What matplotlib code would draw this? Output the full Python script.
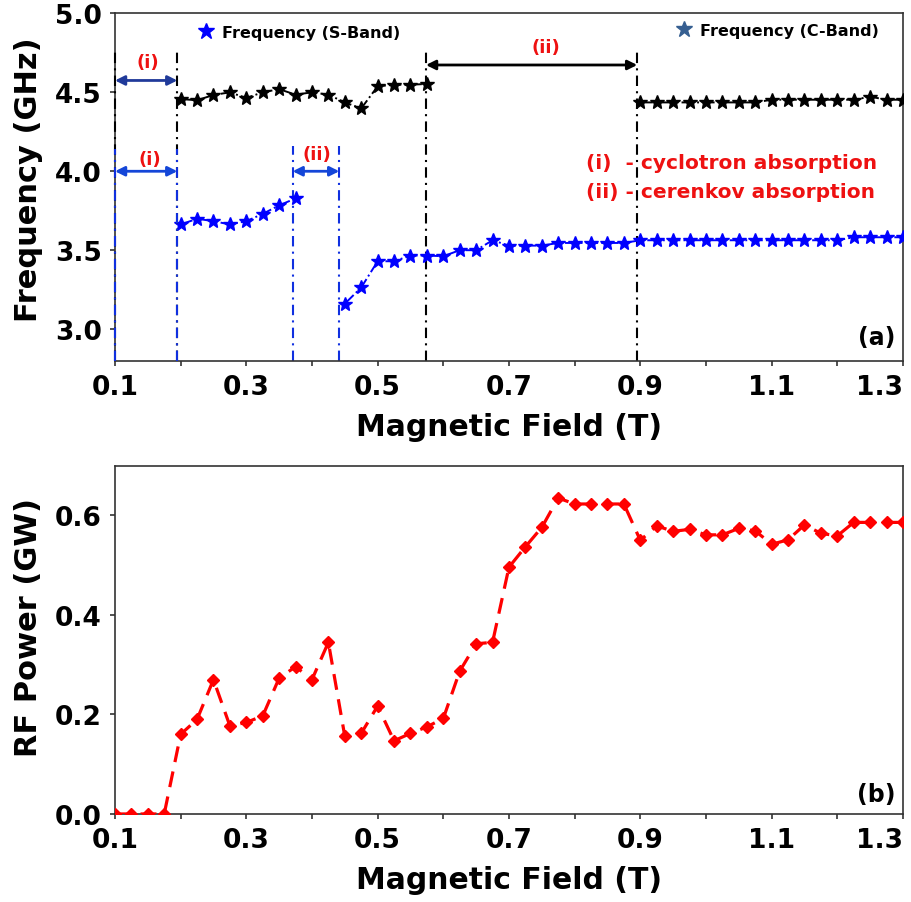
import numpy as np
import matplotlib
matplotlib.use('Agg')
import matplotlib.pyplot as plt
from matplotlib.lines import Line2D

plt.rcParams['font.family'] = 'DejaVu Sans'
plt.rcParams['font.weight'] = 'bold'

nan = np.nan

# magnetic field grid (T), 0.025 T steps
field = np.round(np.arange(0.1, 1.3001, 0.025), 3)
field_f = field[4:]  # frequency data starts at 0.2 T

# S-band frequency (GHz), gap where cerenkov absorption occurs
freq_s = [3.663, 3.699, 3.684, 3.663, 3.684, 3.73, 3.784, 3.828,
          nan, nan,
          3.161, 3.264, 3.43, 3.43, 3.466, 3.466, 3.462, 3.5, 3.5, 3.563,
          3.529, 3.529, 3.529, 3.546, 3.546, 3.546, 3.546, 3.546,
          3.563, 3.563, 3.563, 3.563, 3.563, 3.563, 3.563, 3.563, 3.563,
          3.563, 3.563, 3.563, 3.563,
          3.582, 3.582, 3.582, 3.582]

# C-band frequency (GHz)
freq_c = [4.457, 4.45, 4.483, 4.5, 4.464, 4.5, 4.52, 4.485, 4.5, 4.485,
          4.436, 4.398, 4.538, 4.548, 4.548, 4.553,
          nan, nan, nan, nan, nan, nan, nan, nan, nan, nan, nan, nan,
          4.436, 4.436, 4.436, 4.436, 4.436, 4.436, 4.436, 4.436,
          4.453, 4.453, 4.453, 4.453, 4.453, 4.453,
          4.472, 4.453, 4.453]

# RF power (GW)
power = [0, 0, 0, 0,
         0.16, 0.19, 0.27, 0.177, 0.184, 0.197, 0.273, 0.296, 0.27, 0.345,
         0.156, 0.162, 0.217, 0.147, 0.162, 0.175, 0.192, 0.287, 0.342, 0.345,
         0.496, 0.537, 0.576, 0.635, 0.623, 0.623, 0.623, 0.623,
         0.55, 0.579, 0.568, 0.572, 0.561, 0.561, 0.574, 0.569, 0.542, 0.551,
         0.581, 0.564, 0.559, 0.586, 0.586, 0.586, 0.586]

# absorption region boundaries (T)
black_bounds = [0.1, 0.195, 0.5736, 0.8953]
blue_bounds = [0.1, 0.195, 0.3705, 0.4416]

fig = plt.figure(figsize=(9.11, 9.03), dpi=100)
ax1 = fig.add_axes([0.1262, 0.5994, 0.865, 0.3847])
ax2 = fig.add_axes([0.1262, 0.0975, 0.865, 0.3857])

dashdot = (0, (5, 2.5, 1, 2.5))

# ---- (a) frequency ----
ax1.plot(field_f, freq_c, color='black', ls='-.', lw=1.4, marker='*', ms=10, zorder=3)
ax1.plot(field_f, freq_s, color='#0000ff', ls='-.', lw=1.4, marker='*', ms=10, zorder=3)

for x in black_bounds[:2]:
    ax1.plot([x, x], [2.8, 4.775], color='black', ls=dashdot, lw=1.5,
             clip_on=False, zorder=3)
for x in black_bounds[2:]:
    ax1.plot([x, x], [2.8, 4.78], color='black', ls=dashdot, lw=1.5, clip_on=False)
for x in blue_bounds[:2]:
    ax1.plot([x, x], [2.8, 4.14], color='#1030e0', ls=dashdot, lw=1.5,
             clip_on=False, zorder=3)
for x in blue_bounds[2:]:
    ax1.plot([x, x], [2.8, 4.16], color='#1030e0', ls=dashdot, lw=1.5, clip_on=False)

def span(ax, x0, x1, y, color):
    ax.annotate('', xy=(x0, y), xytext=(x1, y),
                arrowprops=dict(arrowstyle='<|-|>', color=color, lw=2,
                                mutation_scale=14, shrinkA=0, shrinkB=0))

span(ax1, 0.1, 0.195, 4.575, '#203a9a')
span(ax1, 0.1, 0.195, 4.0, '#1446d8')
span(ax1, 0.3705, 0.4416, 4.0, '#1446d8')
span(ax1, 0.5736, 0.8953, 4.673, 'black')

lab = dict(color='#ee1111', fontsize=13, fontweight='bold', ha='center', va='center')
ax1.text(0.150, 4.69, '(i)', **lab)
ax1.text(0.153, 4.08, '(i)', **lab)
ax1.text(0.407, 4.108, '(ii)', **lab)
ax1.text(0.756, 4.786, '(ii)', **lab)

ax1.text(0.818, 4.055, '(i)  - cyclotron absorption', color='#ee1111',
         fontsize=14.5, fontweight='bold', ha='left', va='center')
ax1.text(0.818, 3.87, '(ii) - cerenkov absorption', color='#ee1111',
         fontsize=14.5, fontweight='bold', ha='left', va='center')

ax1.text(0.99, 0.068, '(a)', transform=ax1.transAxes, fontsize=17,
         fontweight='bold', ha='right', va='center')

h_s = Line2D([], [], color='#0000ff', marker='*', ls='none', ms=12)
h_c = Line2D([], [], color='#365f91', marker='*', ls='none', ms=12)
leg1 = ax1.legend([h_s], ['Frequency (S-Band)'], loc='center left',
                  bbox_to_anchor=(0.105, 0.946), frameon=False, fontsize=11.5,
                  handlelength=1, handletextpad=0.5, borderpad=0, borderaxespad=0)
ax1.add_artist(leg1)
ax1.legend([h_c], ['Frequency (C-Band)'], loc='center left',
           bbox_to_anchor=(0.712, 0.952), frameon=False, fontsize=11.5,
           handlelength=1, handletextpad=0.5, borderpad=0, borderaxespad=0)

ax1.set_xlim(0.1, 1.3)
ax1.set_ylim(2.8, 5.0)
ax1.set_yticks([3.0, 3.5, 4.0, 4.5, 5.0])
ax1.set_ylabel('Frequency (GHz)', fontsize=22, fontweight='bold')
ax1.yaxis.set_label_coords(-0.0914, 0.523)

# ---- (b) RF power ----
ax2.plot(field, power, color='#ff0000', ls=(0, (5, 3)), lw=2.3,
         marker='D', ms=6.5, zorder=3)
ax2.text(0.99, 0.057, '(b)', transform=ax2.transAxes, fontsize=17,
         fontweight='bold', ha='right', va='center')
ax2.set_xlim(0.1, 1.3)
ax2.set_ylim(0, 0.7)
ax2.set_yticks([0.0, 0.2, 0.4, 0.6])
ax2.set_ylabel('RF Power (GW)', fontsize=22, fontweight='bold')
ax2.yaxis.set_label_coords(-0.0914, 0.537)

for ax, ly in ((ax1, -0.148), (ax2, -0.146)):
    ax.set_xticks([0.1, 0.3, 0.5, 0.7, 0.9, 1.1, 1.3])
    ax.set_xticks([0.2, 0.4, 0.6, 0.8, 1.0, 1.2], minor=True)
    ax.tick_params(which='both', direction='out', length=3.5, width=1.2,
                   color='#333333', labelsize=19)
    ax.tick_params(axis='x', pad=6)
    ax.tick_params(axis='y', pad=6)
    for lbl in ax.get_xticklabels() + ax.get_yticklabels():
        lbl.set_fontweight('bold')
    # keep the last field label inside the figure edge
    ax.get_xticklabels()[-1].set_horizontalalignment('right')
    for s in ax.spines.values():
        s.set_color('#333333')
        s.set_linewidth(1.2)
    ax.set_xlabel('Magnetic Field (T)', fontsize=21.5, fontweight='bold')
    ax.xaxis.set_label_coords(0.5, ly)

fig.savefig('out.png', dpi=100)
